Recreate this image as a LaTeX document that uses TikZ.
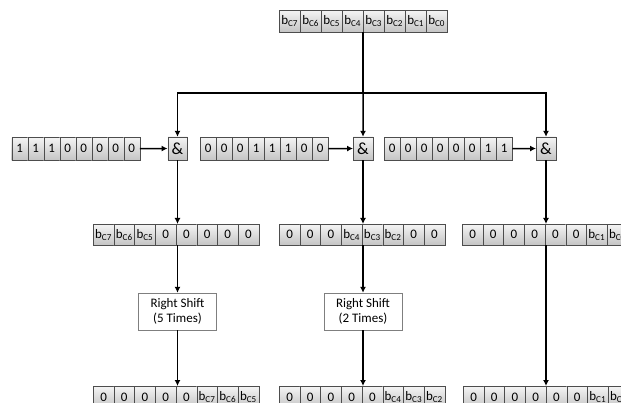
\documentclass[tikz,border=0pt]{standalone}
\usepackage{fontspec}
\setmainfont{Carlito}
\usetikzlibrary{arrows.meta,positioning}
\definecolor{Edge}{HTML}{4D4D4D}
\definecolor{BoxEdge}{HTML}{7F7F7F}
\definecolor{CellTop}{HTML}{F4F4F4}
\definecolor{CellBot}{HTML}{C4C4C4}
\tikzset{
 cell/.style={draw=Edge, top color=CellTop, bottom color=CellBot, inner sep=0pt, anchor=north west, font=\fontsize{13}{15}\selectfont},
 band/.style={inner sep=0pt, anchor=north west},
 andbox/.style={draw=Edge, top color=CellTop, bottom color=CellBot, inner sep=0pt, minimum width=19.5pt, minimum height=23pt, font=\fontsize{17}{19}\selectfont},
 shiftbox/.style={draw=BoxEdge, fill=white, align=center, minimum width=78pt, minimum height=37pt, inner sep=2pt, font=\fontsize{13}{15}\selectfont},
 arrow/.style={-{Latex[length=6pt,width=6pt]}, line width=1.5pt, draw=black},
 wire/.style={line width=1.5pt, draw=black}
}
\newcommand{\bbit}[1]{b\textsubscript{C#1}}
% name, left x, top y, cell width, cell height, bits
\newcommand{\bitreg}[6]{%
  \node[band, minimum width=8*#4pt, minimum height=#5pt] (#1) at (#2,#3) {};
  \foreach \v [count=\i] in {#6}
    \node[cell, minimum width=#4pt, minimum height=#5pt] (#1-\i) at ({#2+(\i-1)*#4},#3) {\v};
}

\begin{document}
\begin{tikzpicture}[x=1pt,y=-1pt]
\useasboundingbox (0,0) rectangle (621,403);
\clip (0,0) rectangle (621,403);

% input byte
\bitreg{src}{279}{10}{21}{22}{\bbit7,\bbit6,\bbit5,\bbit4,\bbit3,\bbit2,\bbit1,\bbit0}

% masks and AND gates
\bitreg{mask1}{11.5}{137}{16}{23}{1,1,1,0,0,0,0,0}
\bitreg{mask2}{200}{137}{16}{23}{0,0,0,1,1,1,0,0}
\bitreg{mask3}{384}{137}{16}{23}{0,0,0,0,0,0,1,1}
\node[andbox] (and1) at (177.5,148.5) {\&};
\node[andbox] (and2) at (363,148.5) {\&};
\node[andbox] (and3) at (546,148.5) {\&};

% masked results
\bitreg{res1}{93}{224}{20.7}{21}{\bbit7,\bbit6,\bbit5,0,0,0,0,0}
\bitreg{res2}{279}{224}{20.7}{21}{0,0,0,\bbit4,\bbit3,\bbit2,0,0}
\bitreg{res3}{462}{224}{20.7}{21}{0,0,0,0,0,0,\bbit1,\bbit0}

\node[shiftbox] (shift1) at (177.5,311.5) {Right Shift\\(5 Times)};
\node[shiftbox] (shift2) at (363,311.5) {Right Shift\\(2 Times)};

% outputs
\bitreg{out1}{93}{386}{20.7}{22}{0,0,0,0,0,\bbit7,\bbit6,\bbit5}
\bitreg{out2}{279}{386}{20.7}{22}{0,0,0,0,0,\bbit4,\bbit3,\bbit2}
\bitreg{out3}{463}{386}{20.7}{22}{0,0,0,0,0,0,\bbit1,\bbit0}

% connectors
\coordinate (bus) at (0,93);
\coordinate (split) at (src.south |- bus);
\draw[wire] (src.south) -- (split);
\draw[arrow] (split) -| (and1.north);
\draw[arrow] (split) -- (and2.north);
\draw[arrow] (split) -| (and3.north);
\draw[arrow] (mask1.east) -- (and1.west);
\draw[arrow] (mask2.east) -- (and2.west);
\draw[arrow] (mask3.east) -- (and3.west);
\draw[arrow] (and1.south) -- (and1.south |- res1.north);
\draw[arrow] (and2.south) -- (and2.south |- res2.north);
\draw[arrow] (and3.south) -- (and3.south |- res3.north);
\draw[arrow] (shift1.north |- res1.south) -- (shift1.north);
\draw[arrow] (shift2.north |- res2.south) -- (shift2.north);
\draw[arrow] (shift1.south) -- (shift1.south |- out1.north);
\draw[arrow] (shift2.south) -- (shift2.south |- out2.north);
\draw[arrow] (and3.south |- res3.south) -- (and3.south |- out3.north);
\end{tikzpicture}
\end{document}
